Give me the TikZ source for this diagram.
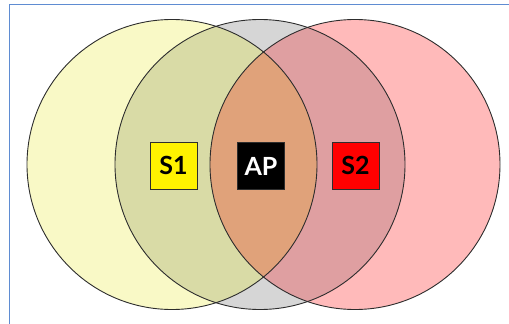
\documentclass[tikz,border=0pt]{standalone}
\usepackage{fontspec}
\setsansfont{Lato}

\definecolor{framecol}{RGB}{95,140,210}
\definecolor{yelonly}{RGB}{249,249,198}
\definecolor{grayonly}{RGB}{214,214,214}
\definecolor{redonly}{RGB}{255,186,186}
\definecolor{yelgray}{RGB}{217,219,166}
\definecolor{redgray}{RGB}{223,159,161}
\definecolor{centre}{RGB}{224,162,122}
\definecolor{rim}{RGB}{45,45,45}

\tikzset{
  rangeline/.style={draw=rim, line width=0.9pt},
  stbox/.style={draw=rim, line width=0.8pt, minimum size=47pt, inner sep=0pt,
    font=\sffamily\bfseries\fontsize{25}{25}\selectfont},
}

\begin{document}
\begin{tikzpicture}[x=1pt,y=-1pt]
% Define radius of the ranges and their centres.
\def\rad{145pt}
\coordinate (cone) at (172,164.5);   %centre of S1 range.
\coordinate (cap) at (260,164.5);    %centre of AP range.
\coordinate (ctwo) at (355,164.5);   %centre of S2 range.

\useasboundingbox (0,0) rectangle (509,324);
\clip (0,0) rectangle (509,324);

% Frame
\draw[framecol, line width=1.3pt] (9.5,4.5) rectangle (540,350);

% Fill the ranges, region by region.
\fill[yelonly] (cone) circle (\rad);
\fill[grayonly] (cap) circle (\rad);
\fill[redonly] (ctwo) circle (\rad);
\begin{scope}
  \clip (cone) circle (\rad);
  \fill[yelgray] (cap) circle (\rad);
\end{scope}
\begin{scope}
  \clip (ctwo) circle (\rad);
  \fill[redgray] (cap) circle (\rad);
\end{scope}
\begin{scope}
  \clip (cone) circle (\rad);
  \fill[centre] (ctwo) circle (\rad);
\end{scope}

% Outlines of the ranges.
\draw[rangeline] (cone) circle (\rad);
\draw[rangeline] (cap) circle (\rad);
\draw[rangeline] (ctwo) circle (\rad);

% Stations and access point.
\node[stbox, fill=yellow] (sone) at (173.5,165.5) {S1};
\node[stbox, fill=black, text=white] (ap) at (261,166) {AP};
\node[stbox, fill=red] (stwo) at (355.5,165.5) {S2};

\end{tikzpicture}
\end{document}
